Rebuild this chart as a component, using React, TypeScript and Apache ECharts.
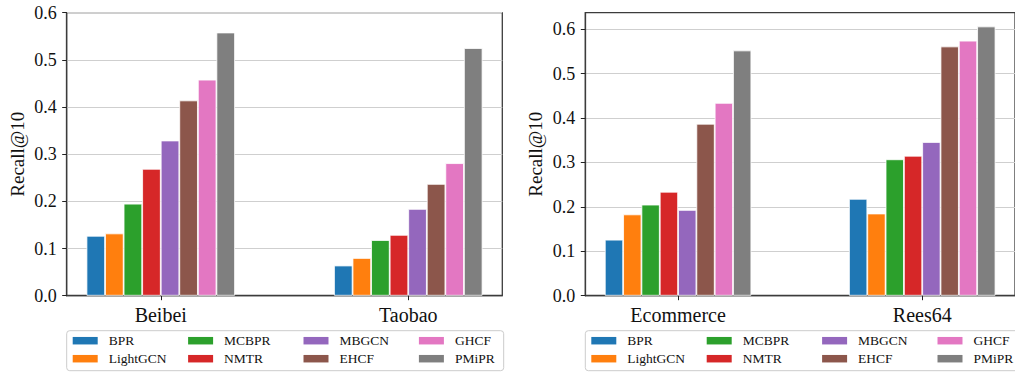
import React, { useEffect, useRef } from "react";
import * as echarts from "echarts";

// Datasets shown in each panel
const leftDatasets = ["Beibei", "Taobao"];
const rightDatasets = ["Ecommerce", "Rees64"];

// Methods compared (legend order, column-first in a 4-column layout)
const methods = ["BPR", "LightGCN", "MCBPR", "NMTR", "MBGCN", "EHCF", "GHCF", "PMiPR"];
const colors = ["#1f77b4", "#ff7f0e", "#2ca02c", "#d62728", "#9467bd", "#8c564b", "#e377c2", "#7f7f7f"];

// Recall@10 per method, one value per dataset
const bprVals = [0.127, 0.064, 0.126, 0.218];
const lightgcnVals = [0.132, 0.080, 0.183, 0.185];
const mcbprVals = [0.195, 0.118, 0.205, 0.307];
const nmtrVals = [0.269, 0.129, 0.234, 0.315];
const mbgcnVals = [0.329, 0.184, 0.193, 0.346];
const ehcfVals = [0.414, 0.237, 0.387, 0.561];
const ghcfVals = [0.458, 0.281, 0.434, 0.574];
const pmiprVals = [0.558, 0.525, 0.552, 0.606];

const allVals = [bprVals, lightgcnVals, mcbprVals, nmtrVals, mbgcnVals, ehcfVals, ghcfVals, pmiprVals];

const leftTicks = [0, 0.1, 0.2, 0.3, 0.4, 0.5, 0.6];
const rightTicks = [0, 0.1, 0.2, 0.3, 0.4, 0.5, 0.6];

const FONT = "'Liberation Serif', 'Times New Roman', serif";
const FRAME = "#3c3c3c";

export default function App() {
  const ref = useRef<HTMLDivElement>(null);

  useEffect(() => {
    if (!ref.current) return;
    const chart = echarts.init(ref.current, undefined, { renderer: "svg" });

    const panels = [
      { names: leftDatasets, offset: 0, left: 66.7, yMax: 0.6, ticks: leftTicks },
      { names: rightDatasets, offset: 2, left: 585.3, yMax: 0.637, ticks: rightTicks },
    ];

    const grids: any[] = [];
    const xAxes: any[] = [];
    const yAxes: any[] = [];
    const series: any[] = [];
    const legends: any[] = [];

    // Legend rows: row-first order of a column-first 2x4 arrangement
    const legendOrder: number[] = [];
    for (let r = 0; r < 2; r++) for (let c = 0; c < 4; c++) legendOrder.push(c * 2 + r);

    panels.forEach((p, pi) => {
      grids.push({
        left: p.left,
        top: 12.7,
        width: 435.6,
        height: 283,
        show: true,
        borderColor: FRAME,
        borderWidth: 1.3,
        backgroundColor: "transparent",
      });
      const names = p.names;
      xAxes.push({
        type: "value",
        gridIndex: pi,
        min: -0.38,
        max: 1.38,
        axisLine: { show: true, onZero: false, lineStyle: { color: FRAME, width: 1.3 } },
        axisTick: { show: true, length: 4.5, customValues: [0, 1], lineStyle: { color: "#222", width: 1 } },
        axisLabel: {
          customValues: [0, 1],
          margin: 9,
          fontFamily: FONT,
          fontSize: 20,
          color: "#111",
          formatter: (v: number) => names[Math.round(v)] ?? "",
        },
        splitLine: { show: false },
      });
      yAxes.push({
        type: "value",
        gridIndex: pi,
        min: 0,
        max: p.yMax,
        name: "Recall@10",
        nameLocation: "middle",
        nameGap: 40,
        nameTextStyle: { fontFamily: FONT, fontSize: 19, color: "#111" },
        axisLine: { show: true, onZero: false, lineStyle: { color: FRAME, width: 1.3 } },
        axisTick: { show: true, length: 4.5, customValues: p.ticks, lineStyle: { color: "#222", width: 1 } },
        axisLabel: {
          customValues: p.ticks,
          margin: 10,
          fontFamily: FONT,
          fontSize: 18,
          color: "#111",
          formatter: (v: number) => v.toFixed(1),
        },
        splitLine: { show: true, lineStyle: { color: "#cfcfcf", width: 1.1 } },
      });

      methods.forEach((m, mi) => {
        series.push({
          type: "bar",
          name: m,
          xAxisIndex: pi,
          yAxisIndex: pi,
          barGap: "0%",
          barCategoryGap: "40%",
          itemStyle: { color: colors[mi], borderColor: "#ffffff", borderWidth: 0.8 },
          data: [0, 1].map((k) => [k, allVals[mi][p.offset + k]]),
        });
      });

      legends.push({
        show: true,
        orient: "horizontal",
        left: p.left,
        top: 330.7,
        width: 480,
        padding: [3, 9, 5, 6],
        itemGap: 4,
        itemWidth: 25,
        itemHeight: 7.5,
        borderColor: "#cccccc",
        borderWidth: 1,
        borderRadius: 3,
        backgroundColor: "#ffffff",
        selectedMode: false,
        icon: "rect",
        itemStyle: { borderWidth: 0 },
        textStyle: { fontFamily: FONT, fontSize: 13.5, color: "#111", lineHeight: 14, padding: [0, 0, 0, 6] },
        data: legendOrder.map((idx) => {
          const col = Math.floor(idx / 2);
          return col < 3
            ? { name: methods[idx], textStyle: { width: 75.4 } }
            : { name: methods[idx] };
        }),
      });
    });

    chart.setOption({
      animation: false,
      backgroundColor: "#ffffff",
      grid: grids,
      xAxis: xAxes,
      yAxis: yAxes,
      legend: legends,
      series,
    });

    return () => chart.dispose();
  }, []);

  return (
    <div
      ref={ref}
      style={{ position: "fixed", left: 0, top: 0, width: 1015, height: 372 }}
    />
  );
}
